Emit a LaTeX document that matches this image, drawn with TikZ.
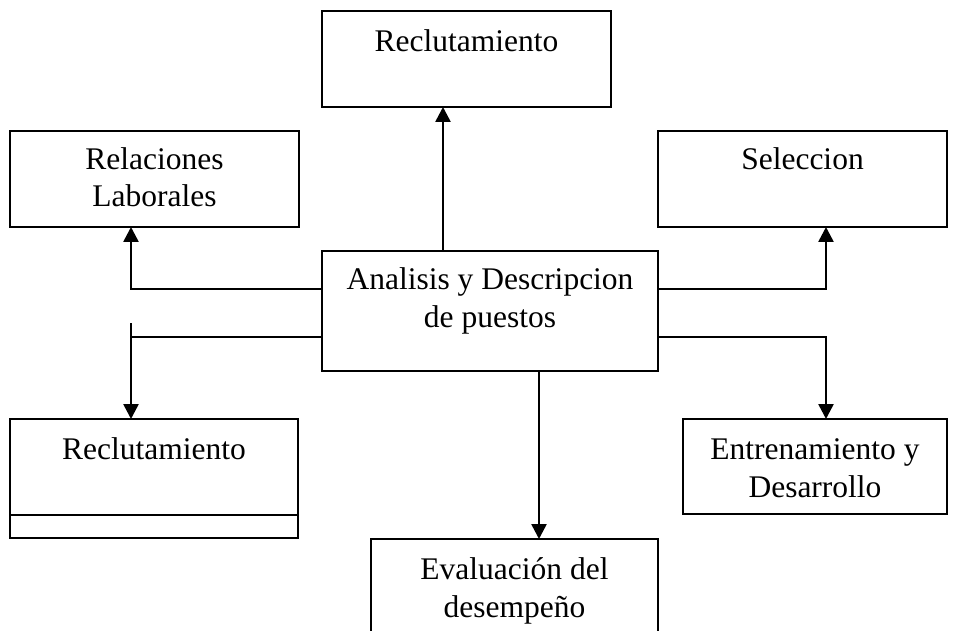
\documentclass[tikz,border=0pt]{standalone}
\usepackage{fontspec}
\setmainfont{Liberation Serif}
\usetikzlibrary{arrows.meta}

\begin{document}
\begin{tikzpicture}[x=1pt, y=-1pt,
  box/.style={draw, line width=2.6pt, inner sep=0pt, outer sep=0pt},
  txt/.style={anchor=base, align=center, inner sep=0pt, font=\fontsize{31.5}{37.5}\selectfont},
  arr/.style={line width=2.6pt, -{Triangle[width=15pt,length=15pt]}}]

\useasboundingbox (0,0) rectangle (959,631);
\clip (0,0) rectangle (959,631);

\node [box, minimum width=289pt, minimum height=96pt] (reclu) at (466.5,59) {};
\node [txt] (treclu) at (466.5,52) {Reclutamiento};
\node [box, minimum width=289pt, minimum height=96pt] (relac) at (154.5,179) {};
\node [txt] (trelac) at (154.5,207) {Relaciones\\Laborales};
\node [box, minimum width=289pt, minimum height=96pt] (selec) at (802.5,179) {};
\node [txt] (tselec) at (802.5,170) {Seleccion};
\node [box, minimum width=336pt, minimum height=120pt] (anal) at (490,311) {};
\node [txt] (tanal) at (490,327) {Analisis y Descripcion\\de puestos};
\node [box, minimum width=288pt, minimum height=119pt] (reclub) at (154,478.5) {};
\node [txt] (treclub) at (154,459) {Reclutamiento};
\node [box, minimum width=264pt, minimum height=95pt] (entre) at (815,466.5) {};
\node [txt] (tentre) at (815,497) {Entrenamiento y\\Desarrollo};
\node [box, minimum width=287pt, minimum height=112pt] (evalu) at (514.5,595) {};
\node [txt] (tevalu) at (514.5,617) {Evaluación del\\desempeño};

\draw [line width=2.6pt] ([yshift=23pt]reclub.south west) -- ([yshift=23pt]reclub.south east);

\draw [arr] ([xshift=121pt]anal.north west) -- ([xshift=121pt]reclu.south west);
\draw [arr] ([yshift=-38pt]anal.north west) -| ([xshift=121pt]relac.south west);
\draw [line width=2.6pt] ([yshift=-86pt]anal.north west) -- ++(-191,0);
\coordinate (lsplit) at (131,323);
\draw [arr] (lsplit) -- ([xshift=121pt]reclub.north west);
\draw [arr] ([yshift=-38pt]anal.north east) -| ([xshift=168pt]selec.south west);
\draw [arr] ([yshift=-86pt]anal.north east) -| ([xshift=143pt]entre.north west);
\draw [arr] ([xshift=217pt]anal.south west) -- ([xshift=168pt]evalu.north west);

\end{tikzpicture}
\end{document}
